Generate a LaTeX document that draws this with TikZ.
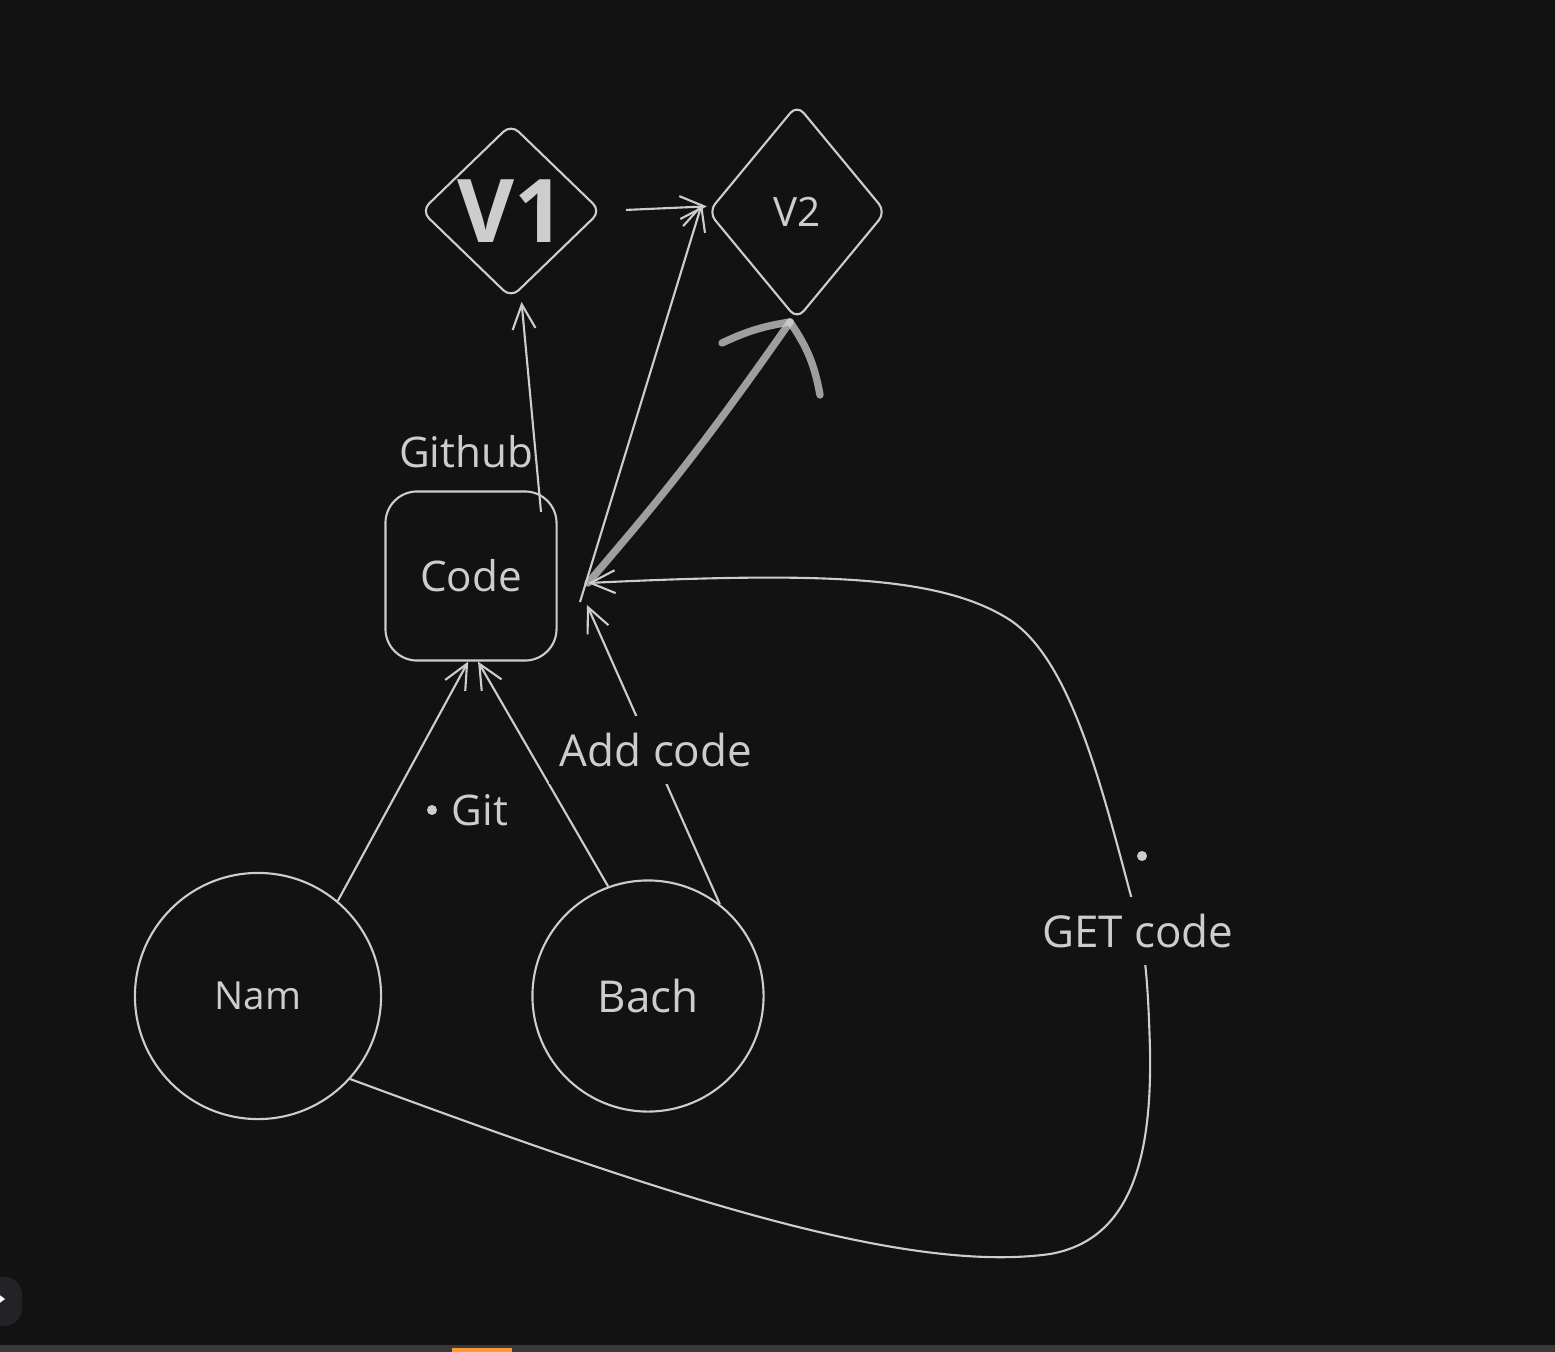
\documentclass[tikz,border=0pt]{standalone}
\usepackage{fontspec}
\setmainfont{Open Sans}
\usetikzlibrary{positioning,arrows.meta,shapes.geometric}
\definecolor{bgdark}{HTML}{121212}
\definecolor{chalk}{HTML}{CDCDCD}
\definecolor{dock}{HTML}{232327}
\tikzset{
  person/.style={circle, draw=chalk, line width=0.6pt, text=chalk, inner sep=0pt, font=\fontsize{12}{14}\selectfont},
  version/.style={diamond, draw=chalk, line width=0.6pt, rounded corners=3pt, text=chalk, inner sep=0pt},
  repo/.style={rectangle, draw=chalk, line width=0.6pt, rounded corners=9pt, text=chalk,
               minimum width=1.71cm, minimum height=1.69cm, font=\fontsize{12}{14}\selectfont},
  link/.style={-{Straight Barb[length=7pt,width=6.5pt]}, draw=chalk, line width=0.6pt},
  tag/.style={text=chalk, inner sep=1pt, font=\fontsize{12}{14}\selectfont},
  cut/.style={fill=bgdark, inner xsep=3pt},
  bigarrow/.style={draw=chalk, line width=2.1pt, line cap=round, line join=round, opacity=0.75},
}

\begin{document}
\begin{tikzpicture}[x=0.01cm, y=-0.01cm]
  % canvas
  \fill[bgdark] (0,0) rectangle (1555,1352);
  \useasboundingbox (0,0) rectangle (1555,1352);
  \fill[gray!45!black] (0,1345) rectangle (1555,1352);
  \fill[orange!80!white] (452,1348) rectangle (512,1352);
  \fill[dock, rounded corners=5pt] (-30,1277) rectangle (22,1326);
  \draw[white, line width=0.5pt, -{Straight Barb[length=2pt,width=3pt]}] (-6,1299) -- (5,1299);

  % nodes
  \node[version, minimum width=1.80cm, minimum height=1.74cm,
        font=\fontsize{25}{27}\selectfont\bfseries] (v1) at (511,211) {V1};
  \node[version, minimum width=1.78cm, minimum height=2.15cm,
        font=\fontsize{11.5}{13}\selectfont] (v2) at (797,212) {V2};
  \node[repo] (code) at (471,576) {Code};
  \node[tag] (github) at (466,452) {Github};
  \node[person, minimum size=2.46cm, font=\fontsize{11}{13}\selectfont] (nam) at (258,996) {Nam};
  \node[person, minimum size=2.31cm, font=\fontsize{12.5}{14}\selectfont] (bach) at (648,996) {Bach};

  \coordinate (hub) at (588,583);
  \coordinate (addtip) at (587,605);
  \coordinate (ghstart) at (541,512);
  \coordinate (fork) at (580,602);
  \coordinate (bighead) at (790,322);

  % thin arrows
  \draw[link] (ghstart) -- ([xshift=3pt, yshift=-0.8pt]v1.south);
  \draw[link, shorten <=6.8pt] (v1.east) -- ([yshift=1.6pt]v2.west);
  \draw[link] (fork) -- ([yshift=2.4pt, xshift=-1.4pt]v2.west);
  \draw[link] (nam.50) -- ([xshift=-0.8pt]code.south);
  \draw[link] (bach.110) -- ([xshift=2pt]code.south);
  \draw[link] (bach.52) -- (addtip);
  \node[tag, cut, minimum height=0.68cm, font=\fontsize{12.5}{14}\selectfont] (addlbl) at (656,750) {Add code};

  % GET code loop
  \draw[link] (nam.-42) .. controls (650,1190) and (900,1275) .. (1050,1254)
    .. controls (1130,1240) and (1152,1160) .. (1150,1050)
    .. controls (1148,980) and (1145,940) .. (1132,900)
    .. controls (1100,780) and (1070,660) .. (1010,620)
    .. controls (940,575) and (820,572) .. (hub);
  \node[tag, cut, minimum height=0.68cm, font=\fontsize{12.5}{14}\selectfont] (getlbl) at (1138,931) {GET code};
  \node[circle, fill=chalk, inner sep=0pt, minimum size=0.1cm] (getdot) at (1142,856) {};

  % Git label
  \node[circle, fill=chalk, inner sep=0pt, minimum size=0.1cm] (gitdot) at (432,810) {};
  \node[tag, right=0.1cm of gitdot] (git) {Git};

  % thick arrow
  \draw[bigarrow] (hub) .. controls (650,510) and (690,465) .. (bighead);
  \draw[bigarrow] (bighead) to[bend right=8] ++(-68,21);
  \draw[bigarrow] (bighead) to[bend left=12] ++(30,73);
\end{tikzpicture}
\end{document}
